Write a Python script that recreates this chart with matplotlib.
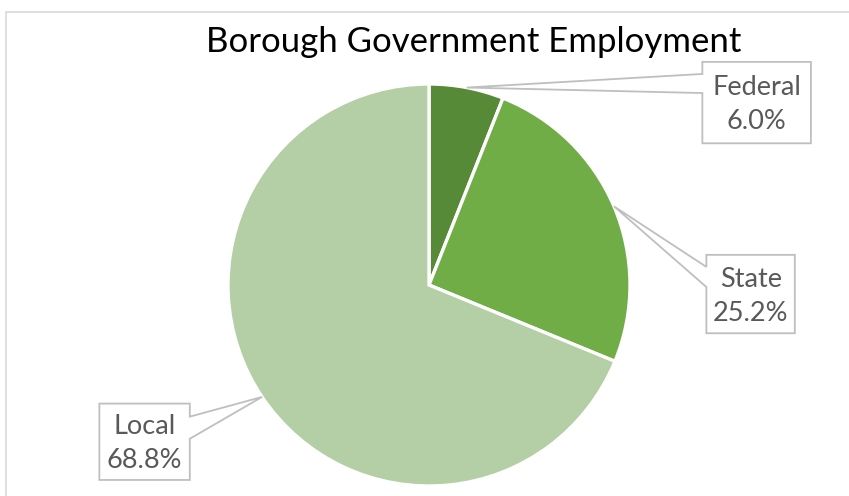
import numpy as np
import matplotlib
matplotlib.use("Agg")
import matplotlib.pyplot as plt
from matplotlib.patches import Polygon, Rectangle

# Data
categories = ["Federal", "State", "Local"]
shares = [6.0, 25.2, 68.8]
colors = ["#578A37", "#70AD47", "#B4CEA5"]

W, H, DPI = 849, 496, 100
fig = plt.figure(figsize=(W / DPI, H / DPI), dpi=DPI)
fig.patch.set_facecolor("white")

# chart-area frame (light grey), running off the right and bottom edges
fig.patches.append(Rectangle((6 / W, -0.1), 1.0, 1 - 12 / H + 0.1,
                             transform=fig.transFigure, fill=False,
                             edgecolor="#D9D9D9", linewidth=1.2))

ax = fig.add_axes([0, 0, 1, 1])
scale = 201.0          # pixels per unit radius
cx, cy = 429.0, 285.0  # pie centre in pixels (from top-left)

wedges, _ = ax.pie(shares, colors=colors, startangle=90, counterclock=False,
                   radius=1.0, center=(0, 0),
                   wedgeprops=dict(edgecolor="white", linewidth=2.4))
ax.set_xlim(-cx / scale, (W - cx) / scale)
ax.set_ylim((cy - H) / scale, cy / scale)
ax.set_aspect("equal")
ax.axis("off")

# Callout boxes: (x0, x1, y_bottom, y_top, side, tail_y_low, tail_y_high)
boxes = {
    "Federal": (1.36, 1.90, 0.705, 1.11, "left", 0.955, 1.05),
    "State":   (1.38, 1.82, -0.24, 0.15, "left", -0.01, 0.09),
    "Local":   (-1.64, -1.19, -0.97, -0.59, "right", -0.765, -0.655),
}

cum = np.cumsum([0] + shares)
for i, name in enumerate(categories):
    mid = (cum[i] + cum[i + 1]) / 2 / 100 * 360
    theta = np.deg2rad(90 - mid)
    tip = (1.0 * np.cos(theta), 1.0 * np.sin(theta))
    x0, x1, yb, yt, side, tl, th = boxes[name]
    if side == "left":
        verts = [(x0, yt), (x1, yt), (x1, yb), (x0, yb), (x0, tl), tip, (x0, th)]
    else:
        verts = [(x0, yt), (x1, yt), (x1, th), tip, (x1, tl), (x1, yb), (x0, yb)]
    ax.add_patch(Polygon(verts, closed=True, facecolor="white",
                         edgecolor="#BFBFBF", linewidth=1.3, zorder=5))
    ax.text((x0 + x1) / 2, (yb + yt) / 2 - 0.01, f"{name}\n{shares[i]:.1f}%",
            ha="center", va="center", fontsize=19.5, color="#595959",
            family="Lato", linespacing=1.45, zorder=6)

fig.text(474 / W, 1 - 42 / H, "Borough Government Employment",
         ha="center", va="center", fontsize=25, color="black", family="Lato")

fig.savefig("out.png", dpi=DPI)
